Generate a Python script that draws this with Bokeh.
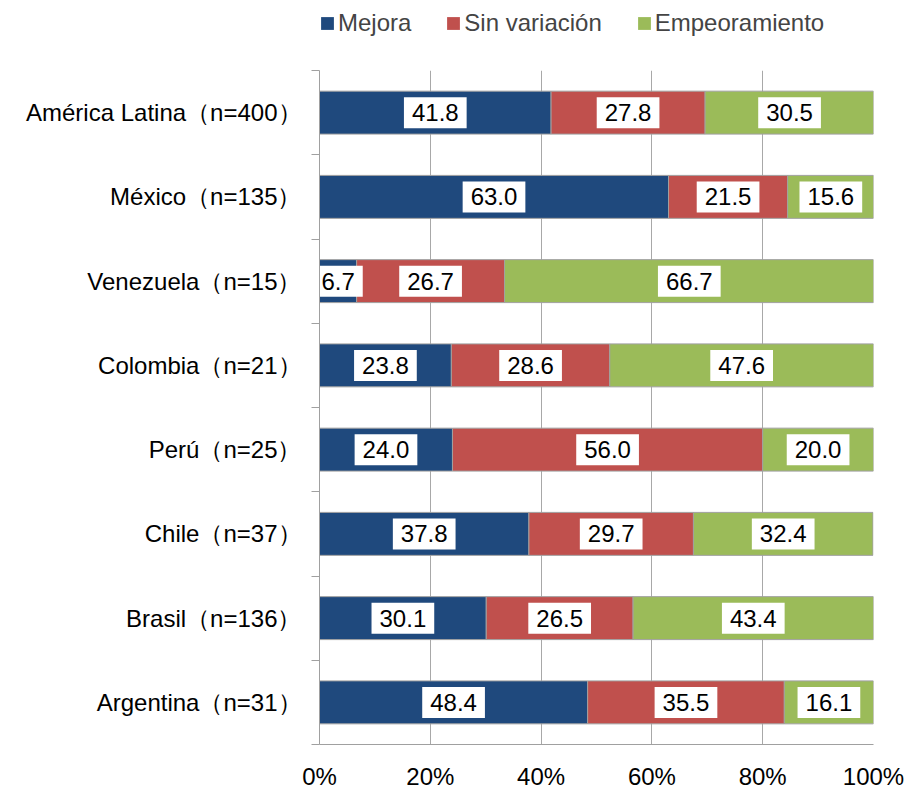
from bokeh.plotting import figure
from bokeh.layouts import column
from bokeh.models import (ColumnDataSource, FixedTicker, Legend, LegendItem, Range1d)
from bokeh.core.properties import value
from bokeh.embed import file_html
from bokeh.resources import INLINE

categories = ["América Latina（n=400）", "México（n=135）", "Venezuela（n=15）", "Colombia（n=21）",
              "Perú（n=25）", "Chile（n=37）", "Brasil（n=136）", "Argentina（n=31）"]
mejora = [41.8, 63.0, 6.7, 23.8, 24.0, 37.8, 30.1, 48.4]
sin_variacion = [27.8, 21.5, 26.7, 28.6, 56.0, 29.7, 26.5, 35.5]
empeoramiento = [30.5, 15.6, 66.7, 47.6, 20.0, 32.4, 43.4, 16.1]
series_names = ["Mejora", "Sin variación", "Empeoramiento"]
x_ticks = [0, 20, 40, 60, 80, 100]
x_tick_labels = ["0%", "20%", "40%", "60%", "80%", "100%"]

colors = ["#1F497D", "#C0504D", "#9BBB59"]
FONT = "Liberation Sans"
FS = "24px"
FRAME_W, FRAME_H, LEFT, RIGHT = 554, 674, 319, 34
LEG_H = 46
TOTAL_W = LEFT + FRAME_W + RIGHT

n = len(categories)
ypos = [n - i - 0.5 for i in range(n)]  # top category first

p = figure(frame_width=FRAME_W, frame_height=FRAME_H, output_backend="svg", toolbar_location=None,
           x_range=Range1d(0, 100), y_range=Range1d(0, n),
           min_border_left=LEFT, min_border_right=RIGHT, min_border_bottom=48, min_border_top=70 - LEG_H)
p.outline_line_color = None
p.background_fill_color = "white"

series = [mejora, sin_variacion, empeoramiento]
lefts = [0.0] * n
label_x, label_y, label_t = [], [], []
for vals, col in zip(series, colors):
    rights = [l + v for l, v in zip(lefts, vals)]
    src = ColumnDataSource(dict(y=ypos, left=lefts, right=rights))
    p.hbar(y="y", left="left", right="right", height=0.51, source=src,
           fill_color=col, line_color="#a0a0a0", line_width=1)
    for l, v, yy in zip(lefts, vals, ypos):
        label_x.append(l + v / 2)
        label_y.append(yy)
        label_t.append(f"{v:.1f}")
    lefts = rights

lsrc = ColumnDataSource(dict(x=label_x, y=label_y, t=label_t))
p.text(x="x", y="y", text="t", source=lsrc, text_align="center", text_baseline="middle",
       text_font=value(FONT), text_font_size=value(FS), text_color="black",
       background_fill_color="white", padding=[8, 7])

# x axis
p.xaxis.ticker = FixedTicker(ticks=x_ticks)
p.xaxis.major_label_overrides = {t: s for t, s in zip(x_ticks, x_tick_labels)}
p.xaxis.major_tick_line_color = None
p.xaxis.major_tick_out = 0
p.xaxis.minor_tick_line_color = None
p.xaxis.axis_line_color = "#a0a0a0"
p.xaxis.major_label_text_font = FONT
p.xaxis.major_label_text_font_size = FS
p.xaxis.major_label_text_color = "black"
p.xaxis.major_label_standoff = 18

p.xgrid.ticker = FixedTicker(ticks=x_ticks)
p.xgrid.grid_line_color = "#a8a8a8"
p.ygrid.grid_line_color = None

# y axis: labels at centers, minor ticks at boundaries
p.yaxis.ticker = FixedTicker(ticks=ypos, minor_ticks=list(range(n + 1)))
p.yaxis.major_label_overrides = {y: c for y, c in zip(ypos, categories)}
p.yaxis.major_tick_line_color = None
p.yaxis.major_tick_out = 0
p.yaxis.minor_tick_line_color = "#a0a0a0"
p.yaxis.minor_tick_out = 8
p.yaxis.minor_tick_in = 0
p.yaxis.axis_line_color = "#a0a0a0"
p.yaxis.major_label_text_font = FONT
p.yaxis.major_label_text_font_size = FS
p.yaxis.major_label_text_color = "black"
p.yaxis.major_label_standoff = 10

# legend strip on top (own small figure; swatch carriers have zero size)
lf = figure(width=TOTAL_W, height=LEG_H, output_backend="svg", toolbar_location=None,
            x_range=Range1d(0, 1), y_range=Range1d(0, 1),
            min_border=0, x_axis_location=None, y_axis_location=None)
lf.outline_line_color = None
lf.xgrid.visible = False
lf.ygrid.visible = False
items = []
for nm, col in zip(series_names, colors):
    r = lf.quad(left=[0], right=[0], top=[0], bottom=[0], fill_color=col, line_color=None)
    items.append(LegendItem(label=nm, renderers=[r]))
legend = Legend(items=items, orientation="horizontal", location=(0, 9),
                label_text_font=FONT, label_text_font_size=FS,
                glyph_width=16, glyph_height=16, label_standoff=3, spacing=34,
                border_line_color=None, background_fill_alpha=0, padding=0, margin=0)
lf.add_layout(legend)

layout = column(lf, p, spacing=0)
open("out.html", "w").write(file_html(layout, INLINE))
